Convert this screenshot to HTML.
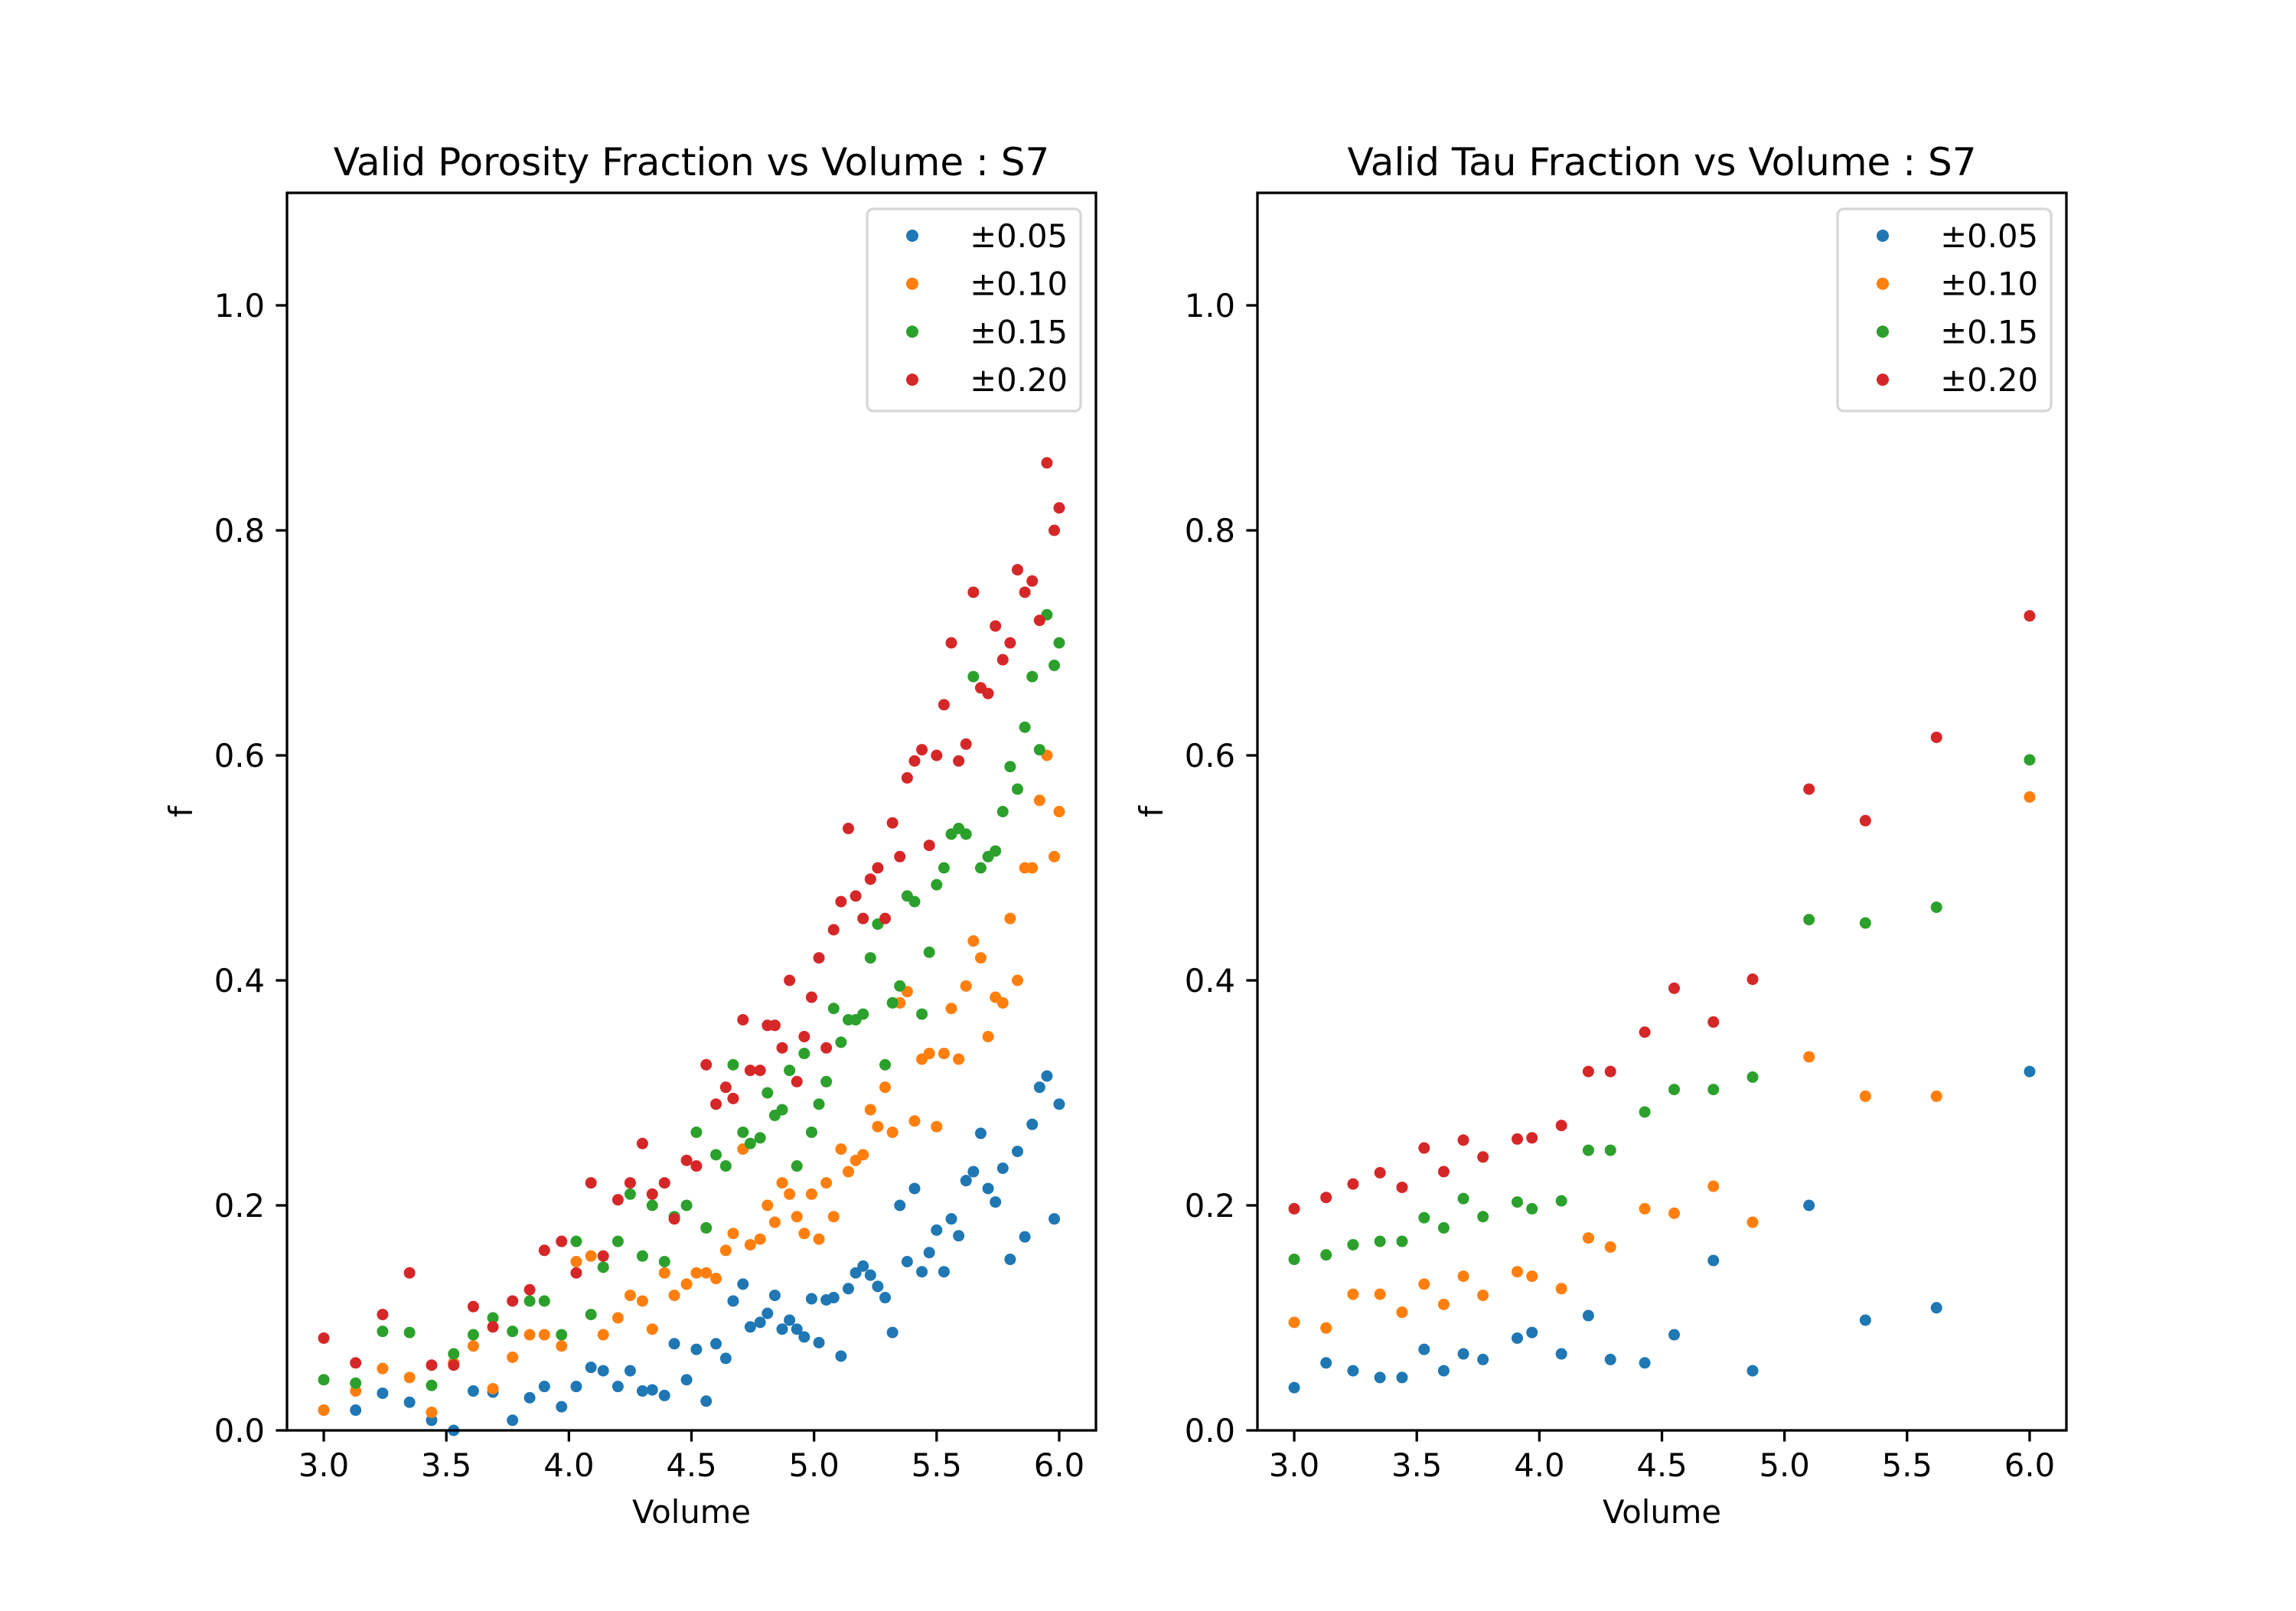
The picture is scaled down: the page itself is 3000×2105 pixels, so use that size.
<!DOCTYPE html>
<html><head><meta charset="utf-8">
<style>
html,body{margin:0;padding:0;background:#fff;}
svg text{font-family:"DejaVu Sans","Liberation Sans",sans-serif;fill:#000;}
</style></head>
<body>
<svg id="fig" width="3000" height="2100" viewBox="0 0 3000 2100" xmlns="http://www.w3.org/2000/svg">
<rect width="3000" height="2100" fill="#fff"/>
</svg>
<script>
const seriesLabels = ["±0.05","±0.10","±0.15","±0.20"];
const colors = ["#1f77b4","#ff7f0e","#2ca02c","#d62728"];
const xTicks = [3.0,3.5,4.0,4.5,5.0,5.5,6.0];
const xTickLabels = ["3.0","3.5","4.0","4.5","5.0","5.5","6.0"];
const yTicks = [0,0.2,0.4,0.6,0.8,1.0];
const yTickLabels = ["0.0","0.2","0.4","0.6","0.8","1.0"];

const porosityVolume = [3.0,3.13,3.24,3.35,3.44,3.53,3.61,3.69,3.77,3.84,3.9,3.97,4.03,4.09,4.14,4.2,4.25,4.3,4.34,4.39,4.43,4.48,4.52,4.56,4.6,4.64,4.67,4.71,4.74,4.78,4.81,4.84,4.87,4.9,4.93,4.96,4.99,5.02,5.05,5.08,5.11,5.14,5.17,5.2,5.23,5.26,5.29,5.32,5.35,5.38,5.41,5.44,5.47,5.5,5.53,5.56,5.59,5.62,5.65,5.68,5.71,5.74,5.77,5.8,5.83,5.86,5.89,5.92,5.95,5.98,6.0];
const porosityBlue = [0.018,0.018,0.033,0.025,0.009,0.0,0.035,0.034,0.009,0.029,0.039,0.021,0.039,0.056,0.053,0.039,0.053,0.035,0.036,0.031,0.077,0.045,0.072,0.026,0.077,0.064,0.115,0.13,0.092,0.096,0.104,0.12,0.09,0.098,0.09,0.083,0.117,0.078,0.116,0.118,0.066,0.126,0.14,0.146,0.138,0.128,0.118,0.087,0.2,0.15,0.215,0.141,0.158,0.178,0.141,0.188,0.173,0.222,0.23,0.264,0.215,0.203,0.233,0.152,0.248,0.172,0.272,0.305,0.315,0.188,0.29];
const porosityOrange = [0.018,0.035,0.055,0.047,0.016,0.06,0.075,0.037,0.065,0.085,0.085,0.075,0.15,0.155,0.085,0.1,0.12,0.115,0.09,0.14,0.12,0.13,0.14,0.14,0.135,0.16,0.175,0.25,0.165,0.17,0.2,0.185,0.22,0.21,0.19,0.175,0.21,0.17,0.22,0.19,0.25,0.23,0.24,0.245,0.285,0.27,0.305,0.265,0.38,0.39,0.275,0.33,0.335,0.27,0.335,0.375,0.33,0.395,0.435,0.42,0.35,0.385,0.38,0.455,0.4,0.5,0.5,0.56,0.6,0.51,0.55];
const porosityGreen = [0.045,0.042,0.088,0.087,0.04,0.068,0.085,0.1,0.088,0.115,0.115,0.085,0.168,0.103,0.145,0.168,0.21,0.155,0.2,0.15,0.19,0.2,0.265,0.18,0.245,0.235,0.325,0.265,0.255,0.26,0.3,0.28,0.285,0.32,0.235,0.335,0.265,0.29,0.31,0.375,0.345,0.365,0.365,0.37,0.42,0.45,0.325,0.38,0.395,0.475,0.47,0.37,0.425,0.485,0.5,0.53,0.535,0.53,0.67,0.5,0.51,0.515,0.55,0.59,0.57,0.625,0.67,0.605,0.725,0.68,0.7];
const porosityRed = [0.082,0.06,0.103,0.14,0.058,0.058,0.11,0.092,0.115,0.125,0.16,0.168,0.14,0.22,0.155,0.205,0.22,0.255,0.21,0.22,0.188,0.24,0.235,0.325,0.29,0.305,0.295,0.365,0.32,0.32,0.36,0.36,0.34,0.4,0.31,0.35,0.385,0.42,0.34,0.445,0.47,0.535,0.475,0.455,0.49,0.5,0.455,0.54,0.51,0.58,0.595,0.605,0.52,0.6,0.645,0.7,0.595,0.61,0.745,0.66,0.655,0.715,0.685,0.7,0.765,0.745,0.755,0.72,0.86,0.8,0.82];

const tauVolume = [3.0,3.13,3.24,3.35,3.44,3.53,3.61,3.69,3.77,3.91,3.97,4.09,4.2,4.29,4.43,4.55,4.71,4.87,5.1,5.33,5.62,6.0];
const tauBlue = [0.038,0.060,0.053,0.047,0.047,0.072,0.053,0.068,0.063,0.082,0.087,0.068,0.102,0.063,0.060,0.085,0.151,0.053,0.200,0.098,0.109,0.319];
const tauOrange = [0.096,0.091,0.121,0.121,0.105,0.130,0.112,0.137,0.120,0.141,0.137,0.126,0.171,0.163,0.197,0.193,0.217,0.185,0.332,0.297,0.297,0.563];
const tauGreen = [0.152,0.156,0.165,0.168,0.168,0.189,0.180,0.206,0.190,0.203,0.197,0.204,0.249,0.249,0.283,0.303,0.303,0.314,0.454,0.451,0.465,0.596];
const tauRed = [0.197,0.207,0.219,0.229,0.216,0.251,0.230,0.258,0.243,0.259,0.260,0.271,0.319,0.319,0.354,0.393,0.363,0.401,0.570,0.542,0.616,0.724];

const NS = "http://www.w3.org/2000/svg";
const svg = document.getElementById("fig");
function el(tag, attrs, parent){ const e=document.createElementNS(NS,tag); for(const k in attrs) e.setAttribute(k,attrs[k]); (parent||svg).appendChild(e); return e; }

const TOP=252, BOT=1869;
const XMIN=2.85, XMAX=6.15, YMIN=0, YMAX=1.1;

function drawPanel(left, right, title, xs, ys, prefix){
  const g = el("g",{});
  
  
  const sx = v => left + (v-XMIN)/(XMAX-XMIN)*(right-left);
  const sy = v => BOT - (v-YMIN)/(YMAX-YMIN)*(BOT-TOP);
  for(let s=0;s<ys.length;s++){
    const sg = el("g",{},g);
    
    
    const n=Math.min(xs.length, ys[s].length);
    for(let i=0;i<n;i++){
      const c = el("circle",{cx:sx(xs[i]),cy:sy(ys[s][i]),r:7.5,fill:colors[s]},sg);
      
      
    }
  }
  const fr = el("rect",{x:left,y:TOP,width:right-left,height:BOT-TOP,fill:"none",stroke:"#000","stroke-width":3.3},g);
  
  
  xTicks.forEach((t,i)=>{
    const x=sx(t);
    el("line",{x1:x,x2:x,y1:BOT,y2:BOT+14.6,stroke:"#000","stroke-width":3.3},g);
    const tx=el("text",{x:x,y:BOT+60,"font-size":41.7,"text-anchor":"middle"},g);
    tx.textContent=xTickLabels[i];
    
    
  });
  yTicks.forEach((t,i)=>{
    const y=sy(t);
    el("line",{x1:left,x2:left-14.6,y1:y,y2:y,stroke:"#000","stroke-width":3.3},g);
    const tx=el("text",{x:left-29,y:y+15,"font-size":41.7,"text-anchor":"end"},g);
    tx.textContent=yTickLabels[i];
    
    
  });
  const mid=(left+right)/2;
  const tt=el("text",{x:mid,y:229,"font-size":50,"text-anchor":"middle"},g);
  tt.textContent=title;
  
  
  const xl=el("text",{x:mid,y:1990,"font-size":41.7,"text-anchor":"middle"},g);
  xl.textContent="Volume";
  
  
  const yx=left-124, yy=(TOP+BOT)/2;
  const yl=el("text",{x:yx,y:yy,"font-size":41.7,"text-anchor":"middle",transform:"rotate(-90 "+yx+" "+yy+")"},g);
  yl.textContent="f";
  
  
  const lg = el("g",{},g);
  
  
  const lx=right-299;
  el("rect",{x:lx,y:273,width:279,height:264,rx:8,fill:"#fff","fill-opacity":0.8,stroke:"#d6d6d6","stroke-width":3.3},lg);
  seriesLabels.forEach((lab,i)=>{
    const y=308+i*62.7;
    const m=el("circle",{cx:lx+59,cy:y,r:8,fill:colors[i]},lg);
    
    
    const t=el("text",{x:lx+262,y:y+15,"font-size":41.7,"text-anchor":"end"},lg);
    t.textContent=lab;
    
    
  });
}
drawPanel(375,1432,"Valid Porosity Fraction vs Volume : S7",porosityVolume,[porosityBlue,porosityOrange,porosityGreen,porosityRed],"porosity");
drawPanel(1643,2700,"Valid Tau Fraction vs Volume : S7",tauVolume,[tauBlue,tauOrange,tauGreen,tauRed],"tau");
</script>
</body></html>
